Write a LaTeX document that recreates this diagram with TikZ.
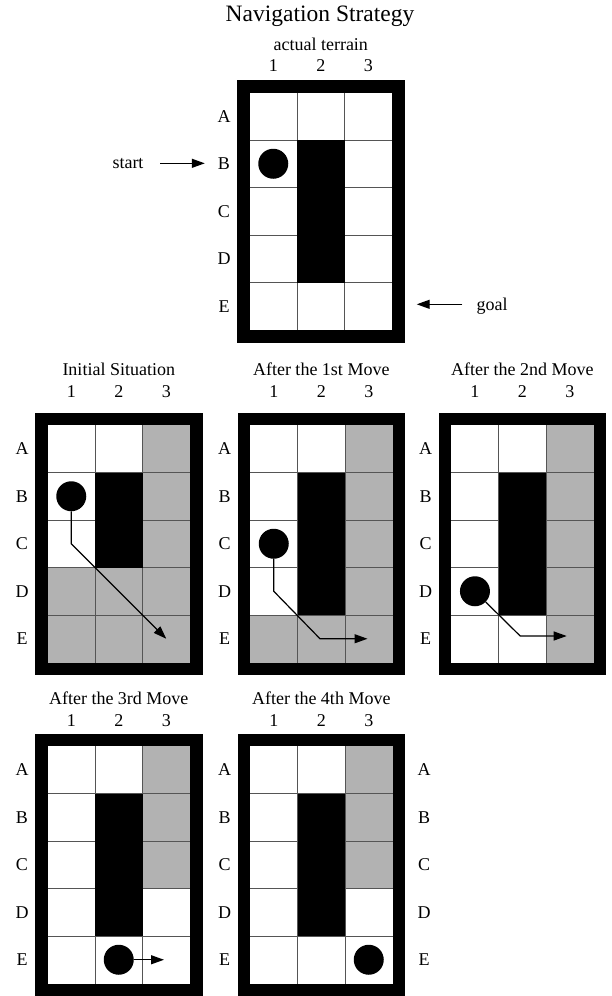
\documentclass[tikz,border=0pt]{standalone}
\usepackage{fontspec}
\setmainfont{Liberation Serif}
\usetikzlibrary{arrows.meta}
\definecolor{cellgray}{RGB}{178,178,178}
\definecolor{gridcol}{RGB}{85,85,85}
\tikzset{
  lab/.style={font=\fontsize{18}{20}\selectfont, inner sep=1pt},
  ttl/.style={font=\fontsize{18}{20}\selectfont, inner sep=1pt, anchor=base},
  gridline/.style={draw=gridcol, line width=1pt},
  robot/.style={circle, fill=black, minimum size=30pt, inner sep=0pt},
  move/.style={draw=black, line width=1.2pt, -{Triangle[length=13pt,width=9pt]}},
}
\newcommand{\navbase}{%
  \fill[black] (-12.5,-12.5) rectangle (155,250);
  \fill[white] (0,0) rectangle (142.5,237.5);}
\newcommand{\cellat}[3]{\fill[#3] ({(#1-1)*47.5},{(#2-1)*47.5}) rectangle ++(47.5,47.5);}
\newcommand{\navlines}{%
  \foreach \i in {1,2} \draw[gridline] (\i*47.5,0) -- (\i*47.5,237.5);
  \foreach \j in {1,...,4} \draw[gridline] (0,\j*47.5) -- (142.5,\j*47.5);}
% #1 name, #2 title, #3 title offset, #4 number offset
\newcommand{\navlabels}[4]{%
  \node[ttl] (#1-t) at (71.25,-#3) {#2};
  \foreach \c in {1,2,3} \node[lab,anchor=base] (#1-c\c) at ({(\c-0.5)*47.5},-#4) {\c};
  \foreach \r/\L in {1/A,2/B,3/C,4/D,5/E} \node[lab] (#1-r\L) at (-25.5,{(\r-0.5)*47.5}) {\L};}
\begin{document}
\begin{tikzpicture}[x=1pt,y=-1pt]
\useasboundingbox (0,0) rectangle (612,996);
\node[anchor=base, inner sep=1pt, font=\fontsize{23.5}{26}\selectfont] (title) at (320,21) {Navigation Strategy};

% actual terrain
\begin{scope}[shift={(249.5,92.5)}]
  \navbase
  \navlines
  \foreach \c/\r in {2/2,2/3,2/4} \cellat{\c}{\r}{black};
  \navlabels{g0}{actual terrain}{42.5}{21.5}
  \node[robot] (r0) at (23.75,71.25) {};
\end{scope}
\node[lab,anchor=base] (start) at (128,168.3) {start};
\draw[move, shorten <=15.5pt, shorten >=12pt] (start.east) -- (start.east -| g0-rB.west);
\coordinate (goal-tip) at (416.7,304.3);
\node[lab,anchor=base] (goal) at (492,310) {goal};
\draw[move, shorten <=13pt] (goal.west |- goal-tip) -- (goal-tip);

% Initial situation
\begin{scope}[shift={(47.5,425)}]
  \navbase
  \foreach \c/\r in {3/1,3/2,3/3,1/4,2/4,3/4,1/5,2/5,3/5} \cellat{\c}{\r}{cellgray};
  \navlines
  \foreach \c/\r in {2/2,2/3} \cellat{\c}{\r}{black};
  \navlabels{g1}{Initial Situation}{50}{27.3}
  \node[robot] (r1) at (23.75,71.25) {};
  \coordinate (g1-b1) at (23.75,118.75);
  \coordinate (g1-tip) at (118.75,213.75);
  \draw[move] (r1.south) -- (g1-b1) -- (g1-tip);
\end{scope}

% After the 1st move
\begin{scope}[shift={(250,425)}]
  \navbase
  \foreach \c/\r in {3/1,3/2,3/3,3/4,1/5,2/5,3/5} \cellat{\c}{\r}{cellgray};
  \navlines
  \foreach \c/\r in {2/2,2/3,2/4} \cellat{\c}{\r}{black};
  \navlabels{g2}{After the 1st Move}{50}{27.3}
  \node[robot] (r2) at (23.75,118.75) {};
  \coordinate (g2-b1) at (23.75,166.25);
  \coordinate (g2-b2) at (70,213.75);
  \coordinate (g2-tip) at (117.5,213.75);
  \draw[move] (r2.south) -- (g2-b1) -- (g2-b2) -- (g2-tip);
\end{scope}

% After the 2nd move
\begin{scope}[shift={(451.2,425)}]
  \navbase
  \foreach \c/\r in {3/1,3/2,3/3,3/4,3/5} \cellat{\c}{\r}{cellgray};
  \navlines
  \foreach \c/\r in {2/2,2/3,2/4} \cellat{\c}{\r}{black};
  \navlabels{g3}{After the 2nd Move}{50}{27.3}
  \node[robot] (r3) at (23.75,166.25) {};
  \coordinate (g3-b1) at (69,211);
  \coordinate (g3-tip) at (115.5,211);
  \draw[move] (r3.-45) -- (g3-b1) -- (g3-tip);
\end{scope}

% After the 3rd move
\begin{scope}[shift={(47.5,746)}]
  \navbase
  \foreach \c/\r in {3/1,3/2,3/3} \cellat{\c}{\r}{cellgray};
  \navlines
  \foreach \c/\r in {2/2,2/3,2/4} \cellat{\c}{\r}{black};
  \navlabels{g4}{After the 3rd Move}{42}{19.3}
  \node[robot] (r4) at (71.25,213.75) {};
  \coordinate (g4-tip) at (116.5,213.75);
  \draw[move] (r4.east) -- (g4-tip);
\end{scope}

% After the 4th move
\begin{scope}[shift={(250,746)}]
  \navbase
  \foreach \c/\r in {3/1,3/2,3/3} \cellat{\c}{\r}{cellgray};
  \navlines
  \foreach \c/\r in {2/2,2/3,2/4} \cellat{\c}{\r}{black};
  \navlabels{g5}{After the 4th Move}{42}{19.3}
  \foreach \r/\L in {1/A,2/B,3/C,4/D,5/E} \node[lab] (g5-R\L) at (174,{(\r-0.5)*47.5}) {\L};
  \node[robot] (r5) at (118.75,213.75) {};
\end{scope}
\end{tikzpicture}
\end{document}
